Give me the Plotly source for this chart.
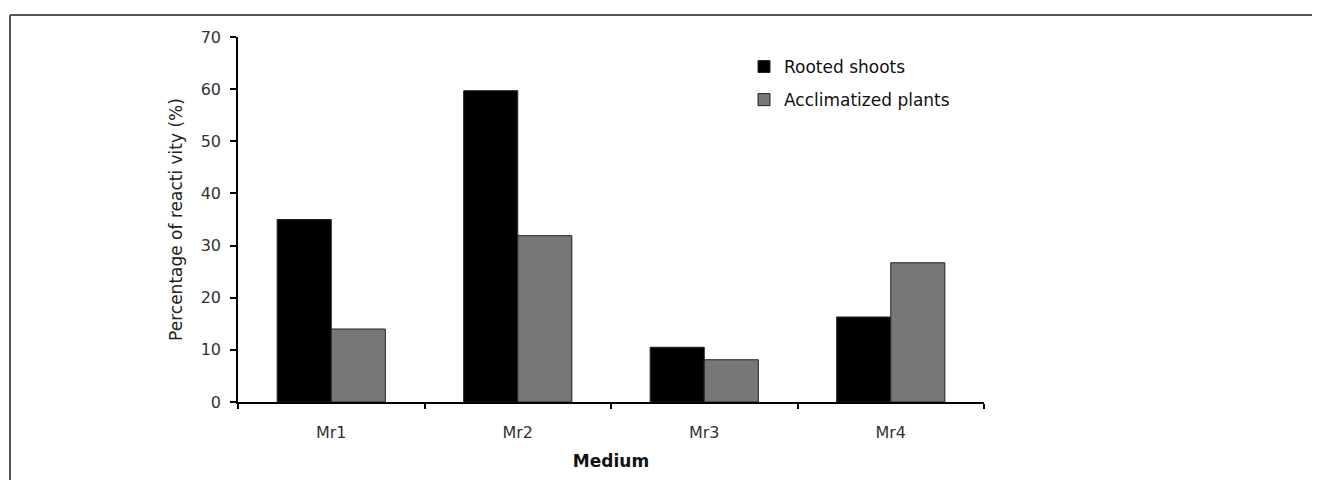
import plotly.graph_objects as go

categories = ["Mr1", "Mr2", "Mr3", "Mr4"]
rooted_shoots = [35.0, 59.7, 10.5, 16.3]
acclimatized_plants = [14.0, 31.9, 8.1, 26.7]
y_ticks = [0, 10, 20, 30, 40, 50, 60, 70]

FONT = "DejaVu Sans, Verdana, sans-serif"

fig = go.Figure()
fig.add_trace(go.Bar(
    x=categories, y=rooted_shoots, name="Rooted shoots",
    marker=dict(color="#000000", line=dict(color="#222222", width=1)),
    legendgroup="a",
))
fig.add_trace(go.Bar(
    x=categories, y=acclimatized_plants, name="Acclimatized plants",
    marker=dict(color="#777777", line=dict(color="#222222", width=1)),
    legendgroup="b",
))

# page body has an 8px offset; figure coords = window coords - 8
OFF = 8
W, H = 1312, 472
ml, mt = 238 - OFF, 37 - OFF
plot_right, plot_bottom = 984 - OFF, 402.5 - OFF
mr = W - plot_right
mb = H - plot_bottom
pw = W - ml - mr
ph = H - mt - mb

def px_x(x):
    return (x - OFF - ml) / pw

def px_y(y):
    return (plot_bottom - (y - OFF)) / ph

fig.update_layout(
    width=W, height=H,
    margin=dict(l=ml, r=mr, t=mt, b=mb),
    paper_bgcolor="white", plot_bgcolor="white",
    barmode="group", bargap=0.42, bargroupgap=0,
    font=dict(family=FONT, size=16, color="#222222"),
    showlegend=True,
    legend=dict(
        x=px_x(744), y=px_y(49),
        xanchor="left", yanchor="top",
        font=dict(family=FONT, size=17, color="#111111"),
        traceorder="grouped", tracegroupgap=8,
        itemwidth=30, bgcolor="rgba(0,0,0,0)",
    ),
    xaxis=dict(
        range=[-0.5, 3.5], showline=True, linecolor="#000000", linewidth=1.5,
        ticks="outside", ticklen=5, tickwidth=1.5, tickcolor="#000000",
        tickson="boundaries", showgrid=False, zeroline=False,
        ticklabelstandoff=15,
        tickfont=dict(family=FONT, size=16, color="#333333"),
        title=dict(text="<b>Medium</b>", font=dict(family=FONT, size=17, color="#111111"), standoff=14),
    ),
    yaxis=dict(
        range=[0, 70], tickvals=y_ticks, showline=True, linecolor="#000000", linewidth=1.5,
        ticks="outside", ticklen=6, tickwidth=1.5, tickcolor="#000000",
        showgrid=False, zeroline=False,
        ticklabelstandoff=6,
        tickfont=dict(family=FONT, size=16, color="#333333"),
        title=dict(text="Percentage of reacti vity (%)", font=dict(family=FONT, size=17, color="#222222"), standoff=14),
    ),
    shapes=[
        dict(type="line", xref="paper", yref="paper",
             x0=px_x(10), x1=px_x(10),
             y0=px_y(15), y1=px_y(500),
             line=dict(color="#555555", width=2)),
        dict(type="line", xref="paper", yref="paper",
             x0=px_x(10), x1=px_x(1340),
             y0=px_y(15), y1=px_y(15),
             line=dict(color="#555555", width=2)),
    ],
)

fig.write_html("out.html")
